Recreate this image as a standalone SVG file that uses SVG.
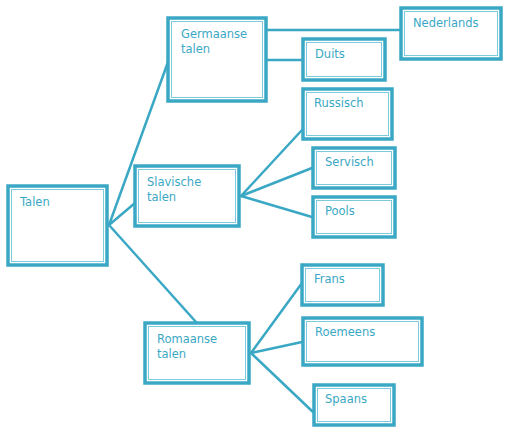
<svg xmlns="http://www.w3.org/2000/svg" width="510" height="432" viewBox="0 0 510 432">
<style>
.o{fill:#fff;stroke:#3aa8c4;stroke-width:3.5}
.i{fill:none;stroke:#7ccadc;stroke-width:1}
.t{font-family:"DejaVu Sans",Verdana,sans-serif;font-size:11.5px;fill:#3aa8c4}
.c line{stroke:#3aa8c4;stroke-width:2.5;stroke-linecap:round}
</style>
<rect width="510" height="432" fill="#fff"/>
<g class="c" id="connectors">
<line x1="109" y1="225" x2="168" y2="62"/>
<line x1="109" y1="225" x2="135" y2="203"/>
<line x1="109" y1="225" x2="196" y2="322"/>
<line x1="267" y1="30" x2="400" y2="30"/>
<line x1="267" y1="60" x2="302" y2="60"/>
<line x1="241" y1="196" x2="302" y2="130"/>
<line x1="241" y1="196" x2="312" y2="168"/>
<line x1="241" y1="196" x2="312" y2="217"/>
<line x1="251" y1="353" x2="302" y2="283"/>
<line x1="251" y1="353" x2="302" y2="342"/>
<line x1="251" y1="353" x2="313" y2="412"/>
</g>
<g id="talen"><rect class="o" x="8" y="186" width="99" height="79"/><rect class="i" x="11.5" y="189.5" width="92" height="72"/><text class="t" x="20" y="206">Talen</text></g>
<g id="germaanse"><rect class="o" x="168" y="18" width="98" height="83"/><rect class="i" x="171.5" y="21.5" width="91" height="76"/><text class="t" x="181" y="38">Germaanse</text><text class="t" x="181" y="53">talen</text></g>
<g id="slavische"><rect class="o" x="135" y="166" width="104" height="60"/><rect class="i" x="138.5" y="169.5" width="97" height="53"/><text class="t" x="147" y="186">Slavische</text><text class="t" x="147" y="201">talen</text></g>
<g id="romaanse"><rect class="o" x="145" y="323" width="104" height="60"/><rect class="i" x="148.5" y="326.5" width="97" height="53"/><text class="t" x="157" y="343">Romaanse</text><text class="t" x="157" y="358">talen</text></g>
<g id="nederlands"><rect class="o" x="401" y="8" width="100" height="51"/><rect class="i" x="404.5" y="11.5" width="93" height="44"/><text class="t" x="413" y="27">Nederlands</text></g>
<g id="duits"><rect class="o" x="303" y="39" width="82" height="41"/><rect class="i" x="306.5" y="42.5" width="75" height="34"/><text class="t" x="315" y="58">Duits</text></g>
<g id="russisch"><rect class="o" x="303" y="89" width="89" height="50"/><rect class="i" x="306.5" y="92.5" width="82" height="43"/><text class="t" x="314" y="107">Russisch</text></g>
<g id="servisch"><rect class="o" x="313" y="148" width="82" height="40"/><rect class="i" x="316.5" y="151.5" width="75" height="33"/><text class="t" x="325" y="166">Servisch</text></g>
<g id="pools"><rect class="o" x="313" y="197" width="82" height="40"/><rect class="i" x="316.5" y="200.5" width="75" height="33"/><text class="t" x="325" y="215">Pools</text></g>
<g id="frans"><rect class="o" x="302" y="265" width="81" height="40"/><rect class="i" x="305.5" y="268.5" width="74" height="33"/><text class="t" x="314" y="283">Frans</text></g>
<g id="roemeens"><rect class="o" x="303" y="318" width="119" height="47"/><rect class="i" x="306.5" y="321.5" width="112" height="40"/><text class="t" x="315" y="336">Roemeens</text></g>
<g id="spaans"><rect class="o" x="314" y="385" width="80" height="40"/><rect class="i" x="317.5" y="388.5" width="73" height="33"/><text class="t" x="325" y="403">Spaans</text></g>
</svg>
